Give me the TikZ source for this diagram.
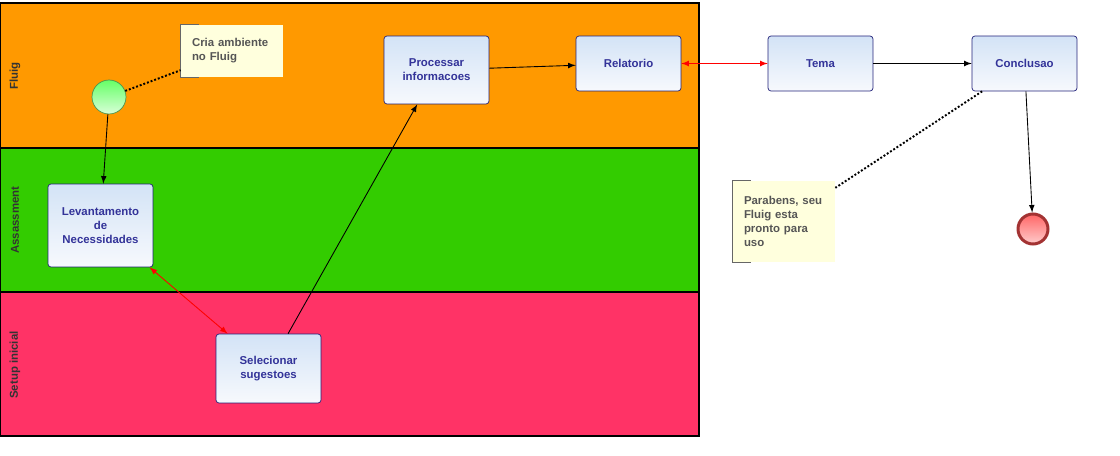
\documentclass[tikz,border=0pt]{standalone}
\usepackage{fontspec}
\setmainfont{Liberation Sans}
\usepackage{tikz}
\usetikzlibrary{arrows,positioning,calc}
\definecolor{laranja}{HTML}{FF9900}
\definecolor{verde}{HTML}{33CC00}
\definecolor{rosa}{HTML}{FF3366}
\definecolor{azultopo}{HTML}{D3E3F6}
\definecolor{azulbase}{HTML}{F7F9FD}
\definecolor{azulborda}{HTML}{22227A}
\definecolor{azultexto}{HTML}{333399}
\definecolor{amarelo}{HTML}{FFFFDD}
\definecolor{cinzatexto}{HTML}{555555}
\definecolor{cinzaborda}{HTML}{666666}
\definecolor{cinzaraia}{HTML}{333333}

\begin{document}
\begin{tikzpicture}[x=0.02cm,y=-0.02cm]
\tikzstyle{tarefa}=[draw=azulborda,rounded corners=0.06cm,top color=azultopo,bottom color=azulbase,text=azultexto,font=\fontsize{6.5}{7.9}\selectfont\bfseries,align=center,minimum width=2.1cm,inner sep=0pt]
\tikzstyle{anotacao}=[fill=amarelo,text=cinzatexto,font=\fontsize{6.5}{7.9}\selectfont\bfseries,align=left,inner xsep=0.22cm,inner ysep=0pt,text width=1.6cm]
\tikzstyle{rotulo}=[rotate=90,text=cinzaraia,font=\fontsize{6.5}{7.9}\selectfont\bfseries]
\tikzstyle{seta}=[->,>=latex,line width=0.5pt]
\tikzstyle{setadupla}=[<->,>=latex,red,line width=0.5pt]
\tikzstyle{pontilhado}=[line width=1.1pt,dash pattern=on 1.1pt off 1.1pt]
\def\LarguraPool{699}
\def\RaiaA{3}
\def\RaiaB{148}
\def\RaiaC{292}
\def\RaiaD{436}
\useasboundingbox (0,0) rectangle (1120,456);
% raias
\fill[laranja] (0,\RaiaA) rectangle (\LarguraPool,\RaiaB);
\fill[verde] (0,\RaiaB) rectangle (\LarguraPool,\RaiaC);
\fill[rosa] (0,\RaiaC) rectangle (\LarguraPool,\RaiaD);
\draw[line width=0.6pt] (0,\RaiaA) rectangle (\LarguraPool,\RaiaD);
\draw[line width=0.6pt] (0,\RaiaB) -- (\LarguraPool,\RaiaB);
\draw[line width=0.6pt] (0,\RaiaC) -- (\LarguraPool,\RaiaC);
\node[rotulo] (rFluig) at (15,76) {Fluig};
\node[rotulo] (rAssassment) at (15,220) {Assassment};
\node[rotulo] (rSetup) at (15,365) {Setup inicial};
% eventos
\node[circle,draw=green!40!black!70,top color=green!60!white,bottom color=green!15!white,minimum size=0.68cm,inner sep=0pt] (inicio) at (109,97) {};
\node[circle,draw={rgb,255:red,163;green,51;blue,51},line width=0.06cm,top color={rgb,255:red,255;green,102;blue,102},bottom color={rgb,255:red,255;green,204;blue,204},minimum size=0.6cm,inner sep=0pt] (fim) at (1033,229) {};
% tarefas
\node[tarefa,minimum height=1.36cm] (processar) at (436.5,70) {Processar\\informacoes};
\node[tarefa,minimum height=1.1cm] (relatorio) at (628.5,63.5) {Relatorio};
\node[tarefa,minimum height=1.1cm] (tema) at (820.5,63.5) {Tema};
\node[tarefa,minimum height=1.1cm] (conclusao) at (1024.5,63.5) {Conclusao};
\node[tarefa,minimum height=1.66cm] (levantamento) at (100.5,225.5) {Levantamento\\de\\Necessidades};
\node[tarefa,minimum height=1.38cm] (selecionar) at (268.5,368.5) {Selecionar\\sugestoes};
% anotacoes
\node[anotacao,minimum height=1.04cm] (nota1) at (232,51) {Cria ambiente\\no Fluig};
\node[anotacao,minimum height=1.62cm] (nota2) at (784,221.5) {Parabens, seu\\Fluig esta\\pronto para\\uso};
\draw[cinzaborda] ($(nota1.north west)+(18,0)$) -- (nota1.north west) -- (nota1.south west) -- ++(18,0);
\draw[cinzaborda] ($(nota2.north west)+(18,0)$) -- (nota2.north west) -- (nota2.south west) -- ++(18,0);
% ligacoes
\draw[pontilhado] (inicio) -- (nota1);
\draw[pontilhado] (conclusao) -- (nota2);
\draw[seta] (inicio) -- (levantamento);
\draw[setadupla] (levantamento) -- (selecionar);
\draw[seta] (selecionar) -- (processar);
\draw[seta] (processar) -- (relatorio);
\draw[setadupla] (relatorio) -- (tema);
\draw[seta] (tema) -- (conclusao);
\draw[seta] (conclusao) -- (fim);
\end{tikzpicture}
\end{document}
